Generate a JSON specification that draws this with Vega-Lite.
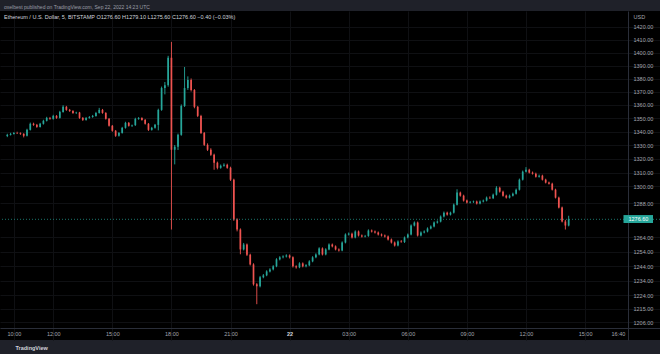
{
"$schema":"https://vega.github.io/schema/vega-lite/v6.json",
"width":660,"height":329,
"autosize":"none",
"padding":{"left":0,"top":11,"right":0,"bottom":14},
"background":"#1f2129",
"config":{"view":{"fill":"#000000","stroke":null},"font":"Liberation Sans"},
"title":{"text":"oxelbest published on TradingView.com, Sep 22, 2022 14:23 UTC","subtitle":"Ethereum / U.S. Dollar, 5, BITSTAMP  O1276.60  H1279.10  L1275.60  C1276.60  −0.40 (−0.03%)","anchor":"start","frame":"group","dx":4,"offset":-9,"fontSize":5,"fontWeight":"normal","color":"#9a9da6","subtitleFontSize":5.5,"subtitleColor":"#d1d4dc","subtitlePadding":4.5},
"data":{"values":[
{"t":580,"o":1336.8,"h":1338.5,"l":1336.0,"c":1337.7},
{"t":590,"o":1337.7,"h":1339.2,"l":1337.2,"c":1338.4},
{"t":600,"o":1338.4,"h":1339.8,"l":1337.9,"c":1339.1},
{"t":610,"o":1339.1,"h":1340.0,"l":1338.3,"c":1338.9},
{"t":620,"o":1338.9,"h":1339.5,"l":1337.7,"c":1338.4},
{"t":630,"o":1338.4,"h":1338.9,"l":1335.8,"c":1337.0},
{"t":640,"o":1337.0,"h":1342.2,"l":1336.5,"c":1341.4},
{"t":650,"o":1341.4,"h":1346.8,"l":1340.9,"c":1345.9},
{"t":660,"o":1345.9,"h":1346.7,"l":1344.4,"c":1345.1},
{"t":670,"o":1345.1,"h":1345.8,"l":1342.9,"c":1343.6},
{"t":680,"o":1343.6,"h":1346.6,"l":1343.1,"c":1345.9},
{"t":690,"o":1345.9,"h":1348.9,"l":1345.3,"c":1348.1},
{"t":700,"o":1348.1,"h":1351.1,"l":1347.6,"c":1350.3},
{"t":710,"o":1350.3,"h":1351.0,"l":1348.9,"c":1349.6},
{"t":720,"o":1349.6,"h":1352.6,"l":1349.0,"c":1351.8},
{"t":730,"o":1351.8,"h":1352.4,"l":1349.6,"c":1350.3},
{"t":740,"o":1350.3,"h":1355.6,"l":1349.8,"c":1354.8},
{"t":750,"o":1354.8,"h":1359.8,"l":1354.2,"c":1358.6},
{"t":760,"o":1358.6,"h":1359.3,"l":1355.6,"c":1356.3},
{"t":770,"o":1356.3,"h":1357.0,"l":1354.8,"c":1355.5},
{"t":780,"o":1355.5,"h":1356.1,"l":1353.3,"c":1354.0},
{"t":790,"o":1354.0,"h":1354.9,"l":1353.2,"c":1354.3},
{"t":800,"o":1354.3,"h":1354.8,"l":1349.6,"c":1350.3},
{"t":810,"o":1350.3,"h":1350.9,"l":1348.0,"c":1348.8},
{"t":820,"o":1348.8,"h":1351.0,"l":1348.2,"c":1350.3},
{"t":830,"o":1350.3,"h":1351.7,"l":1349.7,"c":1351.0},
{"t":840,"o":1351.0,"h":1352.5,"l":1350.4,"c":1351.8},
{"t":850,"o":1351.8,"h":1354.8,"l":1351.2,"c":1354.0},
{"t":860,"o":1354.0,"h":1357.8,"l":1353.5,"c":1356.3},
{"t":870,"o":1356.3,"h":1357.0,"l":1353.4,"c":1354.0},
{"t":880,"o":1354.0,"h":1354.6,"l":1349.0,"c":1349.6},
{"t":890,"o":1349.6,"h":1350.2,"l":1343.8,"c":1344.4},
{"t":900,"o":1344.4,"h":1345.0,"l":1340.0,"c":1340.7},
{"t":910,"o":1340.7,"h":1341.3,"l":1336.2,"c":1337.0},
{"t":920,"o":1337.0,"h":1339.8,"l":1336.4,"c":1339.1},
{"t":930,"o":1339.1,"h":1343.6,"l":1338.6,"c":1342.9},
{"t":940,"o":1342.9,"h":1347.4,"l":1342.3,"c":1346.6},
{"t":950,"o":1346.6,"h":1347.2,"l":1343.8,"c":1344.4},
{"t":960,"o":1344.4,"h":1345.3,"l":1343.5,"c":1344.9},
{"t":970,"o":1344.9,"h":1350.4,"l":1344.3,"c":1349.6},
{"t":980,"o":1349.6,"h":1350.9,"l":1348.9,"c":1350.2},
{"t":990,"o":1350.2,"h":1350.8,"l":1348.2,"c":1348.8},
{"t":1000,"o":1348.8,"h":1349.4,"l":1345.3,"c":1345.9},
{"t":1010,"o":1345.9,"h":1346.5,"l":1340.6,"c":1341.4},
{"t":1020,"o":1341.4,"h":1343.6,"l":1340.8,"c":1342.9},
{"t":1030,"o":1342.9,"h":1345.8,"l":1342.3,"c":1345.1},
{"t":1040,"o":1345.1,"h":1357.2,"l":1341.0,"c":1356.3},
{"t":1050,"o":1356.3,"h":1373.9,"l":1355.6,"c":1372.8},
{"t":1060,"o":1372.8,"h":1377.4,"l":1368.0,"c":1375.0},
{"t":1070,"o":1375.0,"h":1397.5,"l":1373.8,"c":1396.0},
{"t":1080,"o":1396.0,"h":1408.3,"l":1269.4,"c":1326.7},
{"t":1090,"o":1326.7,"h":1330.2,"l":1316.0,"c":1328.9},
{"t":1100,"o":1328.9,"h":1338.6,"l":1326.5,"c":1337.7},
{"t":1110,"o":1337.7,"h":1360.4,"l":1337.0,"c":1359.3},
{"t":1120,"o":1359.3,"h":1388.9,"l":1358.5,"c":1372.8},
{"t":1130,"o":1372.8,"h":1381.7,"l":1371.4,"c":1378.9},
{"t":1140,"o":1378.9,"h":1380.1,"l":1370.2,"c":1371.3},
{"t":1150,"o":1371.3,"h":1372.0,"l":1357.5,"c":1358.6},
{"t":1160,"o":1358.6,"h":1359.3,"l":1350.9,"c":1351.8},
{"t":1170,"o":1351.8,"h":1352.6,"l":1338.3,"c":1339.1},
{"t":1180,"o":1339.1,"h":1339.8,"l":1329.5,"c":1330.3},
{"t":1190,"o":1330.3,"h":1331.4,"l":1325.8,"c":1326.7},
{"t":1200,"o":1326.7,"h":1327.8,"l":1322.2,"c":1323.0},
{"t":1210,"o":1323.0,"h":1323.8,"l":1312.1,"c":1317.2},
{"t":1220,"o":1317.2,"h":1318.0,"l":1312.4,"c":1313.5},
{"t":1230,"o":1313.5,"h":1315.9,"l":1312.8,"c":1315.0},
{"t":1240,"o":1315.0,"h":1316.8,"l":1314.3,"c":1315.7},
{"t":1250,"o":1315.7,"h":1316.5,"l":1312.8,"c":1313.5},
{"t":1260,"o":1313.5,"h":1314.3,"l":1304.0,"c":1304.9},
{"t":1270,"o":1304.9,"h":1305.6,"l":1275.5,"c":1276.4},
{"t":1280,"o":1276.4,"h":1277.3,"l":1268.1,"c":1269.4},
{"t":1290,"o":1269.4,"h":1270.2,"l":1252.1,"c":1255.5},
{"t":1300,"o":1255.5,"h":1260.0,"l":1254.8,"c":1258.9},
{"t":1310,"o":1258.9,"h":1259.6,"l":1250.9,"c":1251.8},
{"t":1320,"o":1251.8,"h":1252.5,"l":1244.4,"c":1245.1},
{"t":1330,"o":1245.1,"h":1245.9,"l":1230.6,"c":1231.5},
{"t":1340,"o":1231.5,"h":1232.3,"l":1218.0,"c":1230.1},
{"t":1350,"o":1230.1,"h":1237.2,"l":1229.4,"c":1236.3},
{"t":1360,"o":1236.3,"h":1238.5,"l":1235.6,"c":1237.6},
{"t":1370,"o":1237.6,"h":1241.1,"l":1237.0,"c":1240.3},
{"t":1380,"o":1240.3,"h":1242.5,"l":1239.6,"c":1241.7},
{"t":1390,"o":1241.7,"h":1244.6,"l":1241.0,"c":1243.8},
{"t":1400,"o":1243.8,"h":1249.4,"l":1243.2,"c":1248.6},
{"t":1410,"o":1248.6,"h":1250.8,"l":1247.9,"c":1250.0},
{"t":1420,"o":1250.0,"h":1251.4,"l":1249.3,"c":1250.6},
{"t":1430,"o":1250.6,"h":1252.1,"l":1249.9,"c":1251.3},
{"t":1440,"o":1251.3,"h":1252.0,"l":1249.2,"c":1250.0},
{"t":1450,"o":1250.0,"h":1250.7,"l":1243.0,"c":1243.8},
{"t":1460,"o":1243.8,"h":1244.5,"l":1242.2,"c":1243.1},
{"t":1470,"o":1243.1,"h":1246.6,"l":1242.5,"c":1245.8},
{"t":1480,"o":1245.8,"h":1246.5,"l":1243.1,"c":1243.8},
{"t":1490,"o":1243.8,"h":1245.3,"l":1243.1,"c":1244.5},
{"t":1500,"o":1244.5,"h":1248.0,"l":1243.9,"c":1247.2},
{"t":1510,"o":1247.2,"h":1250.8,"l":1246.6,"c":1250.0},
{"t":1520,"o":1250.0,"h":1252.8,"l":1249.4,"c":1252.0},
{"t":1530,"o":1252.0,"h":1257.0,"l":1251.4,"c":1256.2},
{"t":1540,"o":1256.2,"h":1256.9,"l":1251.3,"c":1252.0},
{"t":1550,"o":1252.0,"h":1256.3,"l":1251.4,"c":1255.5},
{"t":1560,"o":1255.5,"h":1259.7,"l":1254.9,"c":1258.9},
{"t":1570,"o":1258.9,"h":1259.6,"l":1256.9,"c":1257.6},
{"t":1580,"o":1257.6,"h":1258.3,"l":1254.8,"c":1255.5},
{"t":1590,"o":1255.5,"h":1256.2,"l":1254.0,"c":1254.8},
{"t":1600,"o":1254.8,"h":1261.1,"l":1254.2,"c":1260.3},
{"t":1610,"o":1260.3,"h":1266.7,"l":1259.7,"c":1265.9},
{"t":1620,"o":1265.9,"h":1267.3,"l":1265.2,"c":1266.5},
{"t":1630,"o":1266.5,"h":1267.2,"l":1263.1,"c":1263.8},
{"t":1640,"o":1263.8,"h":1268.8,"l":1263.2,"c":1268.0},
{"t":1650,"o":1268.0,"h":1268.7,"l":1264.5,"c":1265.2},
{"t":1660,"o":1265.2,"h":1265.9,"l":1263.8,"c":1264.5},
{"t":1670,"o":1264.5,"h":1265.6,"l":1263.9,"c":1264.9},
{"t":1680,"o":1264.9,"h":1269.5,"l":1264.3,"c":1268.7},
{"t":1690,"o":1268.7,"h":1269.4,"l":1267.3,"c":1268.0},
{"t":1700,"o":1268.0,"h":1268.7,"l":1266.6,"c":1267.3},
{"t":1710,"o":1267.3,"h":1268.0,"l":1265.2,"c":1265.9},
{"t":1720,"o":1265.9,"h":1266.6,"l":1264.5,"c":1265.2},
{"t":1730,"o":1265.2,"h":1265.9,"l":1263.8,"c":1264.5},
{"t":1740,"o":1264.5,"h":1265.2,"l":1261.7,"c":1262.4},
{"t":1750,"o":1262.4,"h":1263.1,"l":1259.6,"c":1260.3},
{"t":1760,"o":1260.3,"h":1261.0,"l":1257.5,"c":1258.2},
{"t":1770,"o":1258.2,"h":1261.8,"l":1257.6,"c":1261.0},
{"t":1780,"o":1261.0,"h":1262.0,"l":1260.2,"c":1260.6},
{"t":1790,"o":1260.6,"h":1264.5,"l":1260.0,"c":1263.8},
{"t":1800,"o":1263.8,"h":1266.6,"l":1263.2,"c":1265.9},
{"t":1810,"o":1265.9,"h":1273.0,"l":1265.3,"c":1272.2},
{"t":1820,"o":1272.2,"h":1275.1,"l":1271.6,"c":1274.3},
{"t":1830,"o":1274.3,"h":1275.0,"l":1264.5,"c":1265.2},
{"t":1840,"o":1265.2,"h":1268.1,"l":1264.6,"c":1267.3},
{"t":1850,"o":1267.3,"h":1268.8,"l":1266.7,"c":1268.0},
{"t":1860,"o":1268.0,"h":1270.9,"l":1267.4,"c":1270.1},
{"t":1870,"o":1270.1,"h":1272.3,"l":1269.5,"c":1271.5},
{"t":1880,"o":1271.5,"h":1275.1,"l":1270.9,"c":1274.3},
{"t":1890,"o":1274.3,"h":1275.8,"l":1273.6,"c":1275.0},
{"t":1900,"o":1275.0,"h":1279.3,"l":1274.4,"c":1278.5},
{"t":1910,"o":1278.5,"h":1282.1,"l":1277.9,"c":1281.3},
{"t":1920,"o":1281.3,"h":1282.0,"l":1279.2,"c":1279.9},
{"t":1930,"o":1279.9,"h":1282.0,"l":1279.3,"c":1281.3},
{"t":1940,"o":1281.3,"h":1287.8,"l":1280.7,"c":1287.0},
{"t":1950,"o":1287.0,"h":1298.0,"l":1286.4,"c":1295.6},
{"t":1960,"o":1295.6,"h":1296.3,"l":1292.7,"c":1293.4},
{"t":1970,"o":1293.4,"h":1294.1,"l":1289.2,"c":1289.9},
{"t":1980,"o":1289.9,"h":1290.6,"l":1287.8,"c":1288.5},
{"t":1990,"o":1288.5,"h":1289.6,"l":1287.9,"c":1288.9},
{"t":2000,"o":1288.9,"h":1289.9,"l":1288.2,"c":1289.2},
{"t":2010,"o":1289.2,"h":1289.9,"l":1287.1,"c":1287.8},
{"t":2020,"o":1287.8,"h":1290.0,"l":1287.2,"c":1289.2},
{"t":2030,"o":1289.2,"h":1290.6,"l":1288.6,"c":1289.9},
{"t":2040,"o":1289.9,"h":1292.8,"l":1289.3,"c":1292.0},
{"t":2050,"o":1292.0,"h":1292.9,"l":1291.1,"c":1291.6},
{"t":2060,"o":1291.6,"h":1294.9,"l":1291.0,"c":1294.1},
{"t":2070,"o":1294.1,"h":1300.2,"l":1293.5,"c":1299.1},
{"t":2080,"o":1299.1,"h":1299.8,"l":1295.6,"c":1296.3},
{"t":2090,"o":1296.3,"h":1297.0,"l":1292.7,"c":1293.4},
{"t":2100,"o":1293.4,"h":1294.1,"l":1291.3,"c":1292.0},
{"t":2110,"o":1292.0,"h":1294.2,"l":1291.4,"c":1293.4},
{"t":2120,"o":1293.4,"h":1295.6,"l":1292.8,"c":1294.8},
{"t":2130,"o":1294.8,"h":1298.5,"l":1294.2,"c":1297.7},
{"t":2140,"o":1297.7,"h":1305.7,"l":1297.1,"c":1304.9},
{"t":2150,"o":1304.9,"h":1311.5,"l":1304.3,"c":1310.7},
{"t":2160,"o":1310.7,"h":1314.0,"l":1310.1,"c":1312.1},
{"t":2170,"o":1312.1,"h":1312.8,"l":1309.4,"c":1310.0},
{"t":2180,"o":1310.0,"h":1310.8,"l":1308.6,"c":1309.2},
{"t":2190,"o":1309.2,"h":1310.0,"l":1306.4,"c":1307.0},
{"t":2200,"o":1307.0,"h":1308.6,"l":1306.4,"c":1307.8},
{"t":2210,"o":1307.8,"h":1308.5,"l":1304.3,"c":1304.9},
{"t":2220,"o":1304.9,"h":1305.6,"l":1302.2,"c":1302.8},
{"t":2230,"o":1302.8,"h":1303.5,"l":1301.4,"c":1302.0},
{"t":2240,"o":1302.0,"h":1302.7,"l":1297.1,"c":1297.7},
{"t":2250,"o":1297.7,"h":1298.4,"l":1291.4,"c":1292.0},
{"t":2260,"o":1292.0,"h":1292.7,"l":1284.3,"c":1284.9},
{"t":2270,"o":1284.9,"h":1285.6,"l":1274.4,"c":1275.0},
{"t":2280,"o":1275.0,"h":1276.2,"l":1269.4,"c":1272.2},
{"t":2290,"o":1272.2,"h":1279.1,"l":1271.6,"c":1276.6}
]},
"layer":[
{"mark":{"type":"rule","strokeWidth":0.9},
 "encoding":{
  "x":{"field":"t","type":"quantitative","scale":{"domain":[573,2553],"nice":false,"zero":false},
   "axis":{"orient":"bottom","offset":-12,"values":[600,720,900,1080,1260,1440,1620,1800,1980,2160,2340,2440],
    "labelExpr":"datum.value == 1440 ? '22' : (floor(datum.value/60)%24 < 10 ? '0' : '') + floor(datum.value/60)%24 + ':' + (datum.value%60 < 10 ? '0' : '') + datum.value%60",
    "labelFontWeight":{"condition":{"test":"datum.value == 1440","value":"bold"},"value":"normal"},
    "labelColor":{"condition":{"test":"datum.value == 1440","value":"#d1d4dc"},"value":"#a3a6af"},
    "labelFontSize":5.5,"labelPadding":3,"labelFlush":false,"ticks":false,
    "domainColor":"#2a2e39","grid":true,
    "gridColor":{"condition":{"test":"datum.value == 2440","value":"transparent"},"value":"#0f1013"},
    "title":"TradingView","titleX":15,"titleY":19,"titleAlign":"left","titleBaseline":"middle","titleFontSize":5.5,"titleFontWeight":"bold","titleColor":"#d1d4dc"}},
  "y":{"field":"l","type":"quantitative","scale":{"type":"log","domain":[1194.1,1432.6],"nice":false,"zero":false},
   "axis":{"orient":"right","offset":-32,"values":[1206,1215,1224,1234,1244,1254,1264,1288,1300,1310,1320,1330,1340,1350,1360,1370,1380,1390,1400,1410,1420],
    "format":".2f","labelFontSize":5.5,"labelColor":"#a3a6af","labelPadding":5,"ticks":false,"domainColor":"#2a2e39","grid":true,"gridColor":"#0f1013",
    "title":"USD","titleAngle":0,"titleX":5,"titleY":5,"titleAlign":"left","titleBaseline":"middle","titleFontSize":5.5,"titleFontWeight":"normal","titleColor":"#a3a6af"}},
  "y2":{"field":"h"},
  "color":{"condition":{"test":"datum.c >= datum.o","value":"#26a69a"},"value":"#ef5350"}
 }},
{"mark":{"type":"bar","size":1.7,"orient":"vertical"},
 "encoding":{
  "x":{"field":"t","type":"quantitative"},
  "y":{"field":"o","type":"quantitative"},
  "y2":{"field":"c"},
  "color":{"condition":{"test":"datum.c >= datum.o","value":"#26a69a"},"value":"#ef5350"}
 }},
{"data":{"values":[{}]},
 "mark":{"type":"rule","strokeDash":[1,2],"strokeWidth":1,"color":"#26a69a","opacity":0.7},
 "encoding":{"y":{"datum":1276.6,"type":"quantitative"}}},
{"data":{"values":[{}]},
 "mark":{"type":"rect","color":"#26a69a"},
 "encoding":{"x":{"datum":2457,"type":"quantitative"},"x2":{"datum":2547},"y":{"datum":1279.6,"type":"quantitative"},"y2":{"datum":1274.0}}},
{"data":{"values":[{}]},
 "mark":{"type":"text","text":"1276.60","align":"left","baseline":"middle","dx":5,"fontSize":5.5,"color":"#ffffff"},
 "encoding":{"x":{"datum":2457,"type":"quantitative"},"y":{"datum":1276.6,"type":"quantitative"}}}
]
}
